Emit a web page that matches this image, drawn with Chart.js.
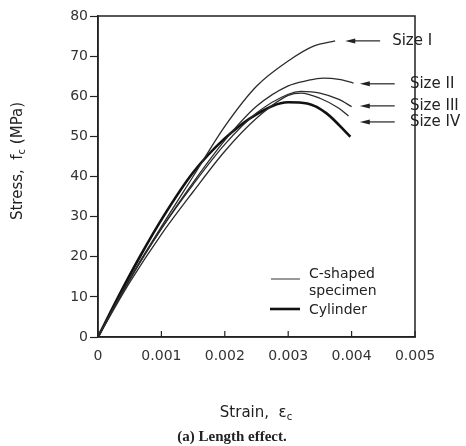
<!DOCTYPE html>
<html>
<head>
<meta charset="utf-8">
<script src="https://cdn.jsdelivr.net/npm/chart.js@4.4.1/dist/chart.umd.min.js"></script>
<style>
    html, body { margin: 0; padding: 0; background: #fff; }
</style>
</head>
<body>
<canvas id="chartStrain" width="466" height="446"></canvas>
<script>
// curves (strain, stress in MPa)
var sizeIStrain = [0, 0.0005, 0.001, 0.0015, 0.002, 0.0025, 0.003, 0.0034, 0.00374];
var sizeIStress = [0, 14.5, 27.5, 40, 52.5, 62.5, 68.8, 72.5, 73.8];

var sizeIIStrain = [0, 0.0005, 0.001, 0.0015, 0.002, 0.0025, 0.003, 0.0033, 0.00355, 0.0038, 0.00403];
var sizeIIStress = [0, 14.3, 27, 38.5, 49, 57.5, 62.6, 63.9, 64.5, 64.2, 63.3];

var sizeIIIStrain = [0, 0.0005, 0.001, 0.0015, 0.002, 0.0025, 0.003, 0.0032, 0.0035, 0.0038, 0.004];
var sizeIIIStress = [0, 14.3, 27, 38, 48, 55.8, 60.5, 61.2, 60.8, 59.2, 57.4];

var sizeIVStrain = [0, 0.0005, 0.001, 0.0015, 0.002, 0.0025, 0.003, 0.0032, 0.0035, 0.0038, 0.00395];
var sizeIVStress = [0, 13.6, 25.6, 36.2, 46.3, 54.5, 60.2, 60.8, 59.5, 57, 55.1];

var cylinderStrain = [0, 0.00032, 0.00066, 0.00103, 0.0015, 0.002, 0.0025, 0.003, 0.0033, 0.0036, 0.00398];
var cylinderStress = [0, 10, 20, 30, 41, 49.5, 55.5, 58.5, 58.2, 55.8, 49.9];

var xTickValues = [0, 0.001, 0.002, 0.003, 0.004, 0.005];
var yTickValues = [0, 10, 20, 30, 40, 50, 60, 70, 80];

// arrow labels on the right
var sizeNames = ["Size I", "Size II", "Size III", "Size IV"];
var sizeArrowStress = [73.8, 63.1, 57.6, 53.6];
var sizeArrowTip = [0.0039, 0.00413, 0.00413, 0.00413];
var sizeArrowTail = [0.00445, 0.00468, 0.00468, 0.00468];
var sizeTextAt = [0.00464, 0.00492, 0.00492, 0.00492];

function toPoints(xs, ys) {
    return xs.map(function (x, i) {
        return { x: x, y: ys[i] };
    });
}

var thin = "#2b2b2b";
var thick = "#111111";

function curve(label, xs, ys, color, width) {
    return {
        label: label,
        data: toPoints(xs, ys),
        showLine: true,
        borderColor: color,
        borderWidth: width,
        pointRadius: 0,
        cubicInterpolationMode: "monotone",
        fill: false,
    };
}

var paperText = {
    id: "paperText",
    afterDraw: function (chart) {
        var ctx = chart.ctx;
        var a = chart.chartArea;
        var xs = chart.scales.x;
        var ys = chart.scales.y;
        ctx.save();

        // frame
        ctx.strokeStyle = "#222";
        ctx.lineWidth = 1.5;
        ctx.strokeRect(a.left, a.top, a.right - a.left, a.bottom - a.top);

        // x ticks point inward
        ctx.lineWidth = 1.2;
        xTickValues.forEach(function (v) {
            var px = xs.getPixelForValue(v);
            ctx.beginPath();
            ctx.moveTo(px, a.bottom);
            ctx.lineTo(px, a.bottom - 6);
            ctx.stroke();
        });

        // size arrows + labels
        ctx.fillStyle = "#222";
        ctx.font = "15px 'DejaVu Sans'";
        ctx.textBaseline = "middle";
        ctx.textAlign = "left";
        sizeNames.forEach(function (name, i) {
            var py = ys.getPixelForValue(sizeArrowStress[i]);
            var tip = xs.getPixelForValue(sizeArrowTip[i]);
            var tail = xs.getPixelForValue(sizeArrowTail[i]);
            ctx.lineWidth = 1.2;
            ctx.beginPath();
            ctx.moveTo(tip + 4, py);
            ctx.lineTo(tail, py);
            ctx.stroke();
            ctx.beginPath();
            ctx.moveTo(tip, py);
            ctx.lineTo(tip + 10, py - 2.5);
            ctx.lineTo(tip + 10, py + 2.5);
            ctx.closePath();
            ctx.fill();
            ctx.fillText(name, xs.getPixelForValue(sizeTextAt[i]), py);
        });

        // legend inside plot
        var lx = a.left + 173;
        ctx.font = "14px 'DejaVu Sans'";
        ctx.strokeStyle = "#555";
        ctx.lineWidth = 1.2;
        ctx.beginPath();
        ctx.moveTo(lx, 279);
        ctx.lineTo(lx + 29, 279);
        ctx.stroke();
        ctx.strokeStyle = "#111";
        ctx.lineWidth = 2.6;
        ctx.beginPath();
        ctx.moveTo(lx - 1, 309);
        ctx.lineTo(lx + 29, 309);
        ctx.stroke();
        ctx.fillText("C-shaped", lx + 38, 274);
        ctx.fillText("specimen", lx + 38, 291);
        ctx.fillText("Cylinder", lx + 38, 310);

        // y axis title, rotated
        ctx.save();
        ctx.translate(18, 161);
        ctx.rotate(-Math.PI / 2);
        var big = "15px 'DejaVu Sans'";
        var small = "10px 'DejaVu Sans'";
        ctx.font = big;
        var w1 = ctx.measureText("Stress,  f").width;
        var w3 = ctx.measureText(" (MPa)").width;
        ctx.font = small;
        var w2 = ctx.measureText("c").width;
        var sx = -(w1 + w2 + w3) / 2;
        ctx.font = big;
        ctx.fillText("Stress,  f", sx, 0);
        ctx.font = small;
        ctx.fillText("c", sx + w1, 4);
        ctx.font = big;
        ctx.fillText(" (MPa)", sx + w1 + w2, 0);
        ctx.restore();

        // x axis title
        ctx.font = big;
        var t1 = ctx.measureText("Strain,  ε").width;
        ctx.font = small;
        var t2 = ctx.measureText("c").width;
        var tx = 256 - (t1 + t2) / 2;
        ctx.font = big;
        ctx.fillText("Strain,  ε", tx, 413);
        ctx.font = small;
        ctx.fillText("c", tx + t1, 417);

        // caption
        ctx.font = "bold 15px 'Liberation Serif'";
        ctx.textAlign = "center";
        ctx.fillText("(a) Length effect.", 232, 437);

        ctx.restore();
    },
};

var ctx = document.getElementById("chartStrain").getContext("2d");

var myChart = new Chart(ctx, {
    type: "scatter",
    data: {
        datasets: [
            curve("Size I", sizeIStrain, sizeIStress, thin, 1.3),
            curve("Size II", sizeIIStrain, sizeIIStress, thin, 1.3),
            curve("Size III", sizeIIIStrain, sizeIIIStress, thin, 1.3),
            curve("Size IV", sizeIVStrain, sizeIVStress, thin, 1.3),
            curve("Cylinder", cylinderStrain, cylinderStress, thick, 2.6),
        ],
    },
    options: {
        responsive: false,
        animation: false,
        layout: { padding: { top: 16, right: 51, left: 0, bottom: 0 } },
        plugins: {
            legend: { display: false },
            tooltip: { enabled: false },
        },
        scales: {
            x: {
                type: "linear",
                min: 0,
                max: 0.005,
                afterBuildTicks: function (scale) {
                    scale.ticks = xTickValues.map(function (v) { return { value: v }; });
                },
                afterFit: function (scale) { scale.height = 109; },
                grid: { display: false, drawTicks: false },
                border: { color: "#222", width: 1.5 },
                ticks: {
                    autoSkip: false,
                    maxRotation: 0,
                    padding: 11,
                    color: "#333",
                    font: { family: "DejaVu Sans", size: 14 },
                    callback: function (v) { return v === 0 ? "0" : v.toFixed(3); },
                },
            },
            y: {
                type: "linear",
                min: 0,
                max: 80,
                afterBuildTicks: function (scale) {
                    scale.ticks = yTickValues.map(function (v) { return { value: v }; });
                },
                afterFit: function (scale) { scale.width = 98; },
                grid: { drawOnChartArea: false, drawTicks: true, tickLength: 8, tickColor: "#222", tickWidth: 1.2 },
                border: { color: "#222", width: 1.5 },
                ticks: {
                    padding: 2,
                    color: "#333",
                    font: { family: "DejaVu Sans", size: 14 },
                },
            },
        },
    },
    plugins: [paperText],
});
</script>
</body>
</html>
